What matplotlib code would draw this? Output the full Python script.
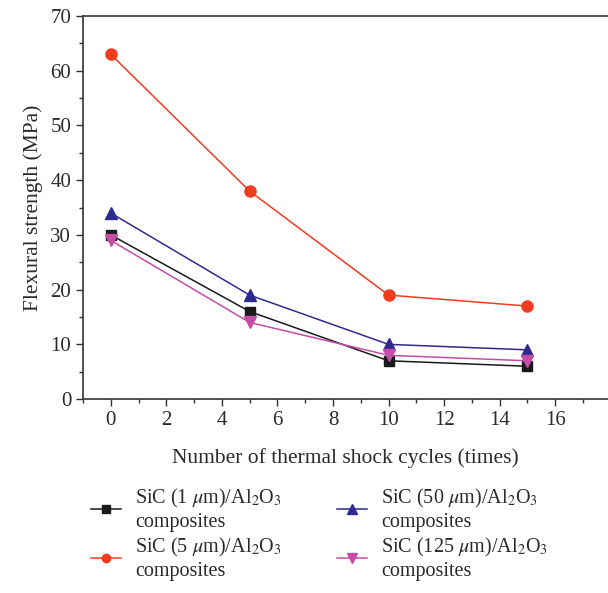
import numpy as np
import matplotlib.pyplot as plt
from matplotlib.ticker import MultipleLocator

plt.rcParams['font.family'] = ['Liberation Serif', 'DejaVu Serif']
plt.rcParams['mathtext.fontset'] = 'stix'

# Datos
cycles = [0, 5, 10, 15]
sic_1 = [30, 16, 7, 6]
sic_5 = [63, 38, 19, 17]
sic_50 = [34, 19, 10, 9]
sic_125 = [29, 14, 8, 7]

labels = [r"SiC (1 $\mu$m)/Al$_2$O$_3$" + "\ncomposites",
          r"SiC (5 $\mu$m)/Al$_2$O$_3$" + "\ncomposites",
          r"SiC (50 $\mu$m)/Al$_2$O$_3$" + "\ncomposites",
          r"SiC (125 $\mu$m)/Al$_2$O$_3$" + "\ncomposites"]

fig = plt.figure(figsize=(6.08, 5.93), dpi=100)
ax = fig.add_axes([0.1365, 0.327, 0.8635, 0.646])

ax.plot(cycles, sic_1, color='#1a1a1a', marker='s', ms=7, lw=1.1, label=labels[0])
ax.plot(cycles, sic_5, color='#f03c1e', marker='o', ms=8, lw=1.1, label=labels[1])
ax.plot(cycles, sic_50, color='#2e2a8f', marker='^', ms=9, lw=1.1, label=labels[2])
ax.plot(cycles, sic_125, color='#c44da6', marker='v', ms=9, lw=1.1, label=labels[3])

ax.set_xlim(-1.0, 17.9)
ax.set_ylim(0, 70)
ax.xaxis.set_major_locator(MultipleLocator(2))
ax.xaxis.set_minor_locator(MultipleLocator(1))
ax.yaxis.set_major_locator(MultipleLocator(10))
ax.yaxis.set_minor_locator(MultipleLocator(5))
ax.tick_params(which='major', length=5, width=1, labelsize=15, colors='#333333', labelcolor='#2a2a2a')
ax.tick_params(which='minor', length=3, width=1, colors='#333333')
ax.spines['right'].set_visible(False)
for s in ['left', 'bottom', 'top']:
    ax.spines[s].set_color('#333333')
    ax.spines[s].set_linewidth(1.2)

ax.set_xlabel("Number of thermal shock cycles (times)", fontsize=15.5, color='#2a2a2a', labelpad=13)
ax.set_ylabel("Flexural strength (MPa)", fontsize=15.5, color='#2a2a2a', labelpad=5)

fig.legend(loc='lower left', bbox_to_anchor=(0.12, -0.01), ncol=2, frameon=False,
           fontsize=14.5, handlelength=1.5, columnspacing=2.7, labelspacing=0.2,
           handletextpad=0.7, markerscale=0.75, labelcolor='#2a2a2a')

fig.savefig('out.png', dpi=100)
